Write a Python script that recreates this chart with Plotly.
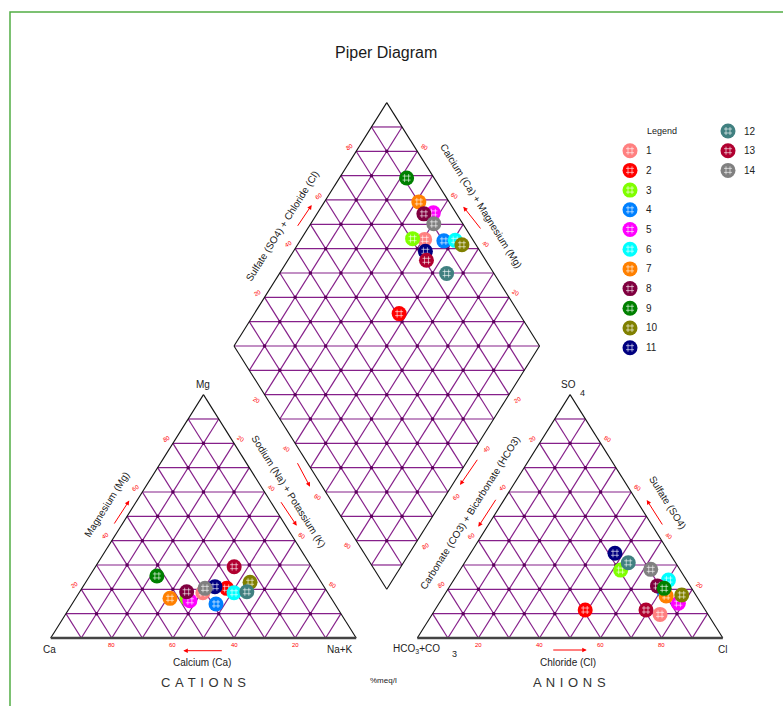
import numpy as np
import plotly.graph_objects as go

# ---------------------------------------------------------------- data
samples = [str(i) for i in range(1, 15)]
colors = ["#ff8080", "#ff0000", "#80ff00", "#0080ff", "#ff00ff", "#00ffff",
          "#ff8000", "#800040", "#008000", "#808000", "#000080", "#408080",
          "#b00030", "#808080"]

# cations, % meq/l
calcium = [40.9, 32.2, 47.2, 38.9, 46.8, 30.7, 52.8, 46.0, 52.5, 23.3, 35.7, 26.3, 25.3, 39.3]
magnesium = [18.6, 20.4, 16.4, 14.0, 15.3, 18.6, 16.3, 19.0, 25.5, 22.9, 21.1, 19.0, 29.3, 20.4]
sodium_potassium = [40.5, 47.4, 36.4, 47.1, 37.9, 50.7, 30.9, 35.0, 22.0, 53.8, 43.2, 54.7, 45.4, 40.3]

# anions, % meq/l
bicarbonate = [15.7, 39.3, 19.5, 9.7, 7.4, 5.9, 9.9, 10.7, 9.0, 4.6, 17.9, 15.5, 19.4, 9.5]
sulfate = [9.7, 11.5, 27.9, 19.5, 14.3, 23.8, 17.3, 21.4, 20.4, 17.7, 34.8, 30.9, 11.5, 28.2]
chloride = [74.6, 49.2, 52.6, 70.8, 78.3, 70.3, 72.8, 67.9, 70.6, 77.7, 47.3, 53.6, 69.1, 62.3]

tick_values = [20, 40, 60, 80]

# ---------------------------------------------------------------- geometry
GAP = 0.2
H = np.sqrt(3) / 2
AX0 = 1 + GAP            # left corner of the anion triangle
DX0, DY0 = 0.5 + GAP / 2, H * (1 + GAP)   # left corner of the diamond


def tri_pt(ox, r, t):
    """point of a unit triangle starting at ox: r = right-corner share, t = top share"""
    return ox + r + 0.5 * t, H * t


def cation_xy(mg, nak):
    return tri_pt(0.0, nak / 100.0, mg / 100.0)


def anion_xy(so4, cl):
    return tri_pt(AX0, cl / 100.0, so4 / 100.0)


def diamond_xy(nak, so4cl):
    a, b = nak / 100.0, so4cl / 100.0
    return DX0 + 0.5 * (a + b), DY0 + H * (b - a)


PURPLE = "#86208a"
NODE = "#5c005c"
FONT = "Liberation Sans, Arial, sans-serif"
HATCH = dict(size=8, symbol="hash-open", color="rgba(255,255,255,0.6)", line=dict(width=1))

fig = go.Figure()


def add_segments(segs, color, width):
    xs, ys = [], []
    for (x0, y0), (x1, y1) in segs:
        xs += [x0, x1, None]
        ys += [y0, y1, None]
    fig.add_trace(go.Scatter(x=xs, y=ys, mode="lines", hoverinfo="skip",
                             line=dict(color=color, width=width), showlegend=False))


# grid lines
grid, nodes = [], []
for ox in (0.0, AX0):
    for k in range(1, 10):
        f = k / 10
        grid.append((tri_pt(ox, 0, f), tri_pt(ox, 1 - f, f)))
        grid.append((tri_pt(ox, f, 0), tri_pt(ox, f, 1 - f)))
        grid.append((tri_pt(ox, 1 - f, 0), tri_pt(ox, 0, 1 - f)))
    for i in range(1, 10):
        for j in range(1, 10 - i):
            nodes.append(tri_pt(ox, i / 10, j / 10))

for k in range(1, 10):
    f = k * 10
    grid.append((diamond_xy(f, 0), diamond_xy(f, 100)))
    grid.append((diamond_xy(0, f), diamond_xy(100, f)))
for k in range(-9, 10):
    c = k * 10
    p0 = diamond_xy(0, c) if c >= 0 else diamond_xy(-c, 0)
    p1 = diamond_xy(100 - c, 100) if c >= 0 else diamond_xy(100, 100 + c)
    grid.append((p0, p1))
for i in range(1, 10):
    for j in range(1, 10):
        nodes.append(diamond_xy(i * 10, j * 10))

add_segments(grid, PURPLE, 1.2)
fig.add_trace(go.Scatter(x=[p[0] for p in nodes], y=[p[1] for p in nodes], mode="markers",
                         marker=dict(size=3.5, color=NODE), hoverinfo="skip", showlegend=False))

# outlines
outline, bases = [], []
for ox in (0.0, AX0):
    bases.append((tri_pt(ox, 0, 0), tri_pt(ox, 1, 0)))
    outline.append((tri_pt(ox, 1, 0), tri_pt(ox, 0, 1)))
    outline.append((tri_pt(ox, 0, 1), tri_pt(ox, 0, 0)))
dl, db, dr, dt = diamond_xy(0, 0), diamond_xy(100, 0), diamond_xy(100, 100), diamond_xy(0, 100)
outline += [(dl, db), (db, dr), (dr, dt), (dt, dl)]
add_segments(outline, "#111111", 1.1)
add_segments(bases, "#444444", 2.4)

# ---------------------------------------------------------------- samples
for i, name in enumerate(samples):
    cx, cy = cation_xy(magnesium[i], sodium_potassium[i])
    ax_, ay_ = anion_xy(sulfate[i], chloride[i])
    dx, dy = diamond_xy(sodium_potassium[i], 100 - bicarbonate[i])
    xs, ys = [cx, ax_, dx], [cy, ay_, dy]
    fig.add_trace(go.Scatter(x=xs, y=ys, mode="markers", name=name, showlegend=False,
                             marker=dict(size=15, color=colors[i], line=dict(width=0))))
    fig.add_trace(go.Scatter(x=xs, y=ys, mode="markers", hoverinfo="skip", showlegend=False,
                             marker=HATCH))

# legend drawn on its own axes: column / row of each entry
leg_col = [0 if i < 11 else 1 for i in range(len(samples))]
leg_row = [i + 1 if i < 11 else i - 11 for i in range(len(samples))]
fig.add_trace(go.Scatter(x=leg_col, y=leg_row, xaxis="x2", yaxis="y2", mode="markers",
                         marker=dict(size=15, color=colors), hoverinfo="skip", showlegend=False))
fig.add_trace(go.Scatter(x=leg_col, y=leg_row, xaxis="x2", yaxis="y2", mode="markers",
                         marker=HATCH, hoverinfo="skip", showlegend=False))

# ---------------------------------------------------------------- annotations
ann = []


def text(x, y, s, size=10, angle=0, color="#222222", xs=0, ys=0, ref=("x", "y"), anchor="center"):
    ann.append(dict(x=x, y=y, text=s, showarrow=False, textangle=angle, xshift=xs, yshift=ys,
                    xref=ref[0], yref=ref[1], xanchor=anchor,
                    font=dict(family=FONT, size=size, color=color)))


def arrow(tail, head):
    ann.append(dict(x=head[0], y=head[1], ax=tail[0], ay=tail[1], axref="x", ayref="y",
                    xref="x", yref="y", text="", showarrow=True, arrowhead=2, arrowsize=0.9,
                    arrowwidth=1, arrowcolor="#ff0000"))


def spaced(word):
    return " \u200a".join(word)


EDGE_ANGLE = np.degrees(np.arctan2(H * 281, 0.5 * 305.5))

# tick labels along every edge
D = 8
for v in tick_values:
    f = v / 100
    # cation triangle
    text(*tri_pt(0, 1 - f, 0), str(v), 6, 0, "#ff0000", ys=-7)
    text(*tri_pt(0, 0, f), str(v), 6, -30, "#ff0000", -0.85 * D, 0.53 * D)
    text(*tri_pt(0, 1 - f, f), str(100 - v), 6, 30, "#ff0000", 0.85 * D, 0.53 * D)
    # anion triangle
    text(*tri_pt(AX0, f, 0), str(v), 6, 0, "#ff0000", ys=-7)
    text(*tri_pt(AX0, 0, f), str(100 - v), 6, -30, "#ff0000", -0.85 * D, 0.53 * D)
    text(*tri_pt(AX0, 1 - f, f), str(v), 6, 30, "#ff0000", 0.85 * D, 0.53 * D)
    # diamond
    text(*diamond_xy(0, v), str(v), 6, -30, "#ff0000", -0.85 * D, 0.53 * D)
    text(*diamond_xy(100 - v, 100), str(v), 6, 30, "#ff0000", 0.85 * D, 0.53 * D)
    text(*diamond_xy(v, 0), str(v), 6, 30, "#ff0000", -0.85 * 10, -0.53 * 10)
    text(*diamond_xy(100, 100 - v), str(v), 6, -30, "#ff0000", 0.85 * 10, -0.53 * 10)

# corner labels
text(*tri_pt(0, 0, 1), "Mg", 10, ys=10)
text(*tri_pt(0, 0, 0), "Ca", 10, xs=-1, ys=-11)
text(*tri_pt(0, 1, 0), "Na+K", 10, xs=-16, ys=-11)
text(*tri_pt(AX0, 0, 1), "SO", 10, xs=-2, ys=10)
text(*tri_pt(AX0, 0, 1), "4", 9, xs=12, ys=2)
text(*tri_pt(AX0, 0, 0), "HCO<sub>3</sub>+CO", 10, xs=-1, ys=-11)
text(*tri_pt(AX0, 0, 0), "3", 9, xs=37, ys=-16)
text(*tri_pt(AX0, 1, 0), "Cl", 10, ys=-11)

# axis titles
text(0.496, -0.0854, "Calcium (Ca)", 10)
text(0.499, -0.1566, spaced("CATIONS"), 13, color="#333333")
text(1.693, -0.0854, "Chloride (Cl)", 10)
text(1.697, -0.1566, spaced("ANIONS"), 13, color="#333333")
text(1.0877, -0.1495, "%meq/l", 8)
text(0.183, 0.476, "Magnesium (Mg)", 10, -EDGE_ANGLE)
text(0.780, 0.523, "Sodium (Na) + Potassium (K)", 10, EDGE_ANGLE)
text(1.372, 0.448, "Carbonate (CO3) + Bicarbonate (HCO3)", 10, -EDGE_ANGLE)
text(2.0206, 0.484, "Sulfate (SO4)", 10, EDGE_ANGLE)
text(0.7561, 1.4662, "Sulfate (SO4) + Chloride (Cl)", 10, -EDGE_ANGLE)
text(1.4108, 1.5374, "Calcium (Ca) + Magnesium (Mg)", 10, EDGE_ANGLE)
text(1.098, 2.082, "Piper Diagram", 16, color="#1a1a1a")

# direction arrows
arrow((0.565, -0.0452), (0.434, -0.0452))
arrow((1.640, -0.0427), (1.7545, -0.0427))
arrow((0.205, 0.402), (0.257, 0.489))
arrow((0.7506, 0.4886), (0.8052, 0.3997))
arrow((0.8052, 0.6274), (0.8488, 0.5384))
arrow((1.3997, 0.6395), (1.3398, 0.5445))
arrow((1.4599, 0.4972), (1.3997, 0.3961))
arrow((2.0052, 0.3986), (1.9509, 0.4911))
arrow((0.8052, 1.4616), (0.8543, 1.5409))
arrow((1.4108, 1.452), (1.3506, 1.5349))

# legend title and entry labels
text(0.33, 0, "Legend", 9, ref=("x2", "y2"))
for c, r, s in zip(leg_col, leg_row, samples):
    text(c, r, s, 10, ref=("x2", "y2"), xs=14, anchor="left")

fig.update_layout(
    width=783, height=706,
    margin=dict(l=0, r=0, t=0, b=0),
    paper_bgcolor="white", plot_bgcolor="rgba(0,0,0,0)",
    showlegend=False,
    xaxis=dict(range=[-0.166, 2.397], visible=False, fixedrange=True),
    yaxis=dict(range=[-0.242, 2.2705], visible=False, fixedrange=True),
    xaxis2=dict(range=[-6.4286, 1.5612], visible=False, overlaying="x", anchor="y2"),
    yaxis2=dict(range=[29.19, -6.65], visible=False, overlaying="y", anchor="x2"),
    annotations=ann,
    shapes=[dict(type="rect", xref="paper", yref="paper",
                 x0=10 / 783, x1=1.05, y0=-0.05, y1=1 - 12 / 706,
                 line=dict(color="#52ad44", width=1.5), layer="below")],
)

fig.write_html("out.html")
